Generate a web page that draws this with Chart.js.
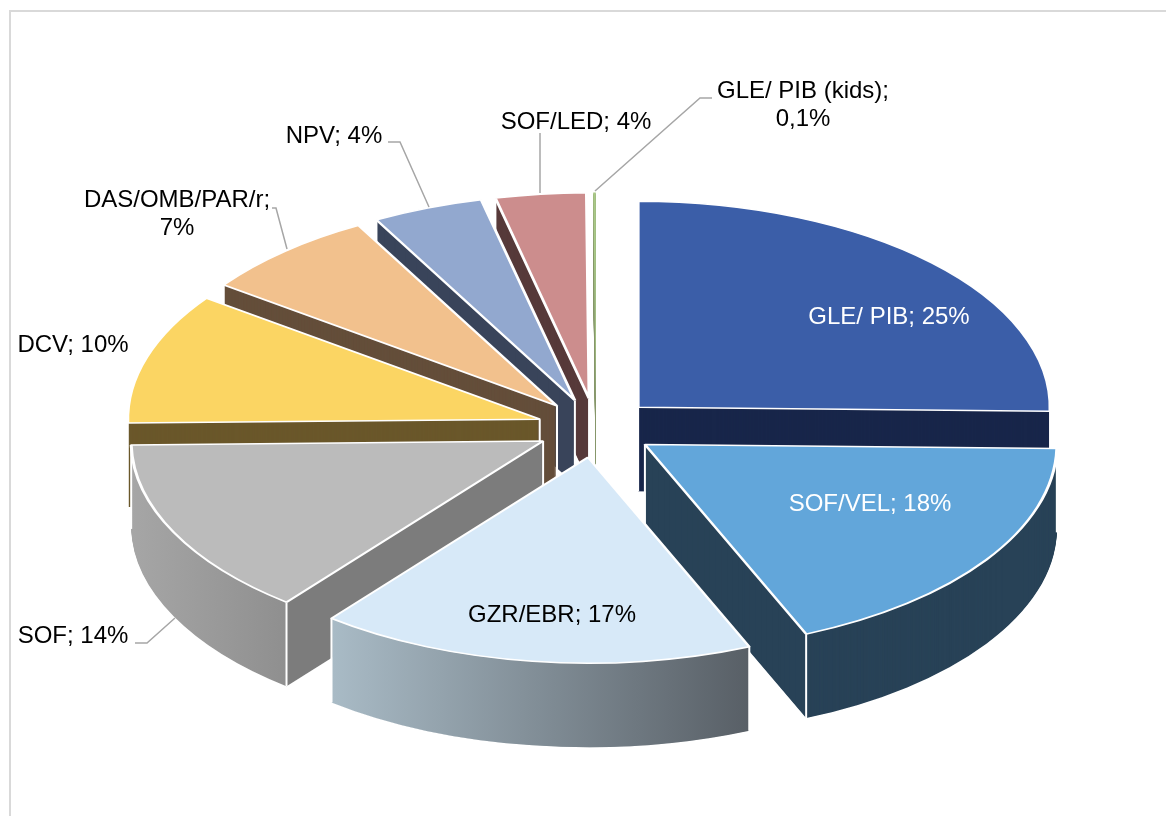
<!DOCTYPE html>
<html>
<head>
<meta charset="utf-8">
<script src="https://cdn.jsdelivr.net/npm/chart.js@4/dist/chart.umd.min.js"></script>
<style>
html,body{margin:0;padding:0;background:#fff;overflow:hidden}
#wrap{position:relative;width:1166px;height:816px}
#frame{position:absolute;left:9px;top:10px;width:1170px;height:820px;border:2px solid #d9d9d9;box-sizing:border-box}
canvas{position:absolute;left:0;top:0}
</style>
</head>
<body>
<div id="wrap"><div id="frame"></div><canvas id="c" width="1166" height="816"></canvas></div>
<script>
const categories = ['GLE/ PIB','SOF/VEL','GZR/EBR','SOF','DCV','DAS/OMB/PAR/r','NPV','SOF/LED','GLE/ PIB (kids)'];
const shareValues = [25.3, 18.3, 17.1, 14, 10.3, 7, 4.35, 3.55, 0.1];
const shareLabels = ['25%','18%','17%','14%','10%','7%','4%','4%','0,1%'];
const topColors  = ['#3b5ea8','#62a6da','#d7e9f8','#bbbbbb','#fbd563','#f2c18d','#92a8cf','#cc8d8d','#a9c887'];
const wallColors = ['#18264a','#284257','#585f66','#7c7c7c','#6a572a','#644e3a','#39445a','#573a3a','#8a9a70'];
// outer-wall shading (start, end) for the two slices with a gradient
const wallShade = {2:['#a9bbc6','#585f66'], 3:['#a6a6a6','#8f8f8f']};
const paintOrder = [8,7,6,5,4,0,3,1,2];

const RADIUS = 412, EXPLODE = 59, TILT = 0.5, DEPTH = 84;

const labelLayout = [
 {lines:['GLE/ PIB; 25%'], x:889, y:317, color:'#ffffff'},
 {lines:['SOF/VEL; 18%'], x:870, y:504, color:'#ffffff'},
 {lines:['GZR/EBR; 17%'], x:552, y:615, color:'#000000'},
 {lines:['SOF; 14%'], x:73, y:636, color:'#000000'},
 {lines:['DCV; 10%'], x:73, y:345, color:'#000000'},
 {lines:['DAS/OMB/PAR/r;','7%'], x:177, y:200, color:'#000000'},
 {lines:['NPV; 4%'], x:334, y:136, color:'#000000'},
 {lines:['SOF/LED; 4%'], x:576, y:122, color:'#000000'},
 {lines:['GLE/ PIB (kids);','0,1%'], x:803, y:91, color:'#000000'}
];
const leaders = [
 [[135,643],[147,643],[175,618]],
 [[272,208],[276,208],[287,249]],
 [[388,142],[400,142],[429,207]],
 [[540,133],[540,193]],
 [[712,98],[700,98],[595,191]]
];

function wallFill(ctx, arc, i){
  const shade = wallShade[i];
  if(!shade) return wallColors[i];
  // gradient spans the visible outer wall, the rest stays flat as the cut face
  const px = a => arc.x + Math.cos(a)*RADIUS;
  const a0 = arc.startAngle, a1 = arc.endAngle;
  let x0 = Math.min(px(a0),px(a1)), x1 = Math.max(px(a0),px(a1));
  if (a0 < Math.PI && a1 > Math.PI) x0 = arc.x - RADIUS;
  const g = ctx.createLinearGradient(arc.x-RADIUS,0,arc.x+RADIUS,0);
  const f = x => Math.min(1,Math.max(0,(x-(arc.x-RADIUS))/(2*RADIUS)));
  g.addColorStop(f(x0),shade[0]); g.addColorStop(f(x1),shade[1]);
  if(i!==2) g.addColorStop(Math.min(1,f(x1)+0.0001),wallColors[i]);
  return g;
}

const pie3d = {
  id:'pie3d',
  beforeDatasetsDraw(chart){
    const ctx = chart.ctx, meta = chart.getDatasetMeta(0);
    const drawArc = (arc, opts) => {
      const saved = arc.options;
      arc.options = Object.assign({}, saved, opts);
      arc.draw(ctx);
      arc.options = saved;
    };
    paintOrder.forEach(i => {
      const arc = meta.data[i];
      const mid = (arc.startAngle + arc.endAngle)/2;
      const dx = Math.cos(mid)*EXPLODE, dy = Math.sin(mid)*EXPLODE*TILT;
      const place = (extra) => {
        ctx.translate(dx, dy + extra);
        ctx.translate(0, arc.y); ctx.scale(1, TILT); ctx.translate(0, -arc.y);
      };
      // side walls: stack of the slice's own arc, back to front
      const fill = wallFill(ctx, arc, i);
      ctx.save(); place(DEPTH);
      drawArc(arc, {backgroundColor:fill, borderWidth:1.5, borderColor:'#ffffff'});
      ctx.restore();
      for(let d = DEPTH; d >= 1; d--){
        ctx.save(); place(d);
        drawArc(arc, {backgroundColor:fill, borderWidth:0});
        ctx.restore();
      }
      // vertical edges
      if(i!==8){
        ctx.save();
        ctx.strokeStyle = '#ffffff'; ctx.lineWidth = 2;
        const corner = a => [arc.x + dx + Math.cos(a)*RADIUS, arc.y + dy + Math.sin(a)*RADIUS*TILT];
        [[arc.x+dx, arc.y+dy], corner(arc.startAngle), corner(arc.endAngle)].forEach(p => {
          ctx.beginPath(); ctx.moveTo(p[0],p[1]); ctx.lineTo(p[0],p[1]+DEPTH); ctx.stroke();
        });
        ctx.restore();
      }
      // top face
      ctx.save(); place(0);
      drawArc(arc, {backgroundColor:topColors[i], borderWidth:i===8?0:3, borderColor:'#ffffff'});
      ctx.restore();
    });
    return false;
  },
  afterDraw(chart){
    const ctx = chart.ctx;
    ctx.save();
    ctx.strokeStyle = '#a6a6a6'; ctx.lineWidth = 1.5;
    leaders.forEach(pts => {
      ctx.beginPath();
      pts.forEach((p,k) => k ? ctx.lineTo(p[0],p[1]) : ctx.moveTo(p[0],p[1]));
      ctx.stroke();
    });
    ctx.font = '24px "Liberation Sans", Arial, sans-serif';
    ctx.textAlign = 'center'; ctx.textBaseline = 'middle';
    labelLayout.forEach(l => {
      ctx.fillStyle = l.color;
      l.lines.forEach((t,k) => ctx.fillText(t, l.x, l.y + k*28.5));
    });
    ctx.restore();
  }
};

new Chart(document.getElementById('c'), {
  type:'pie',
  data:{labels:categories, datasets:[{data:shareValues, backgroundColor:topColors, borderWidth:0, radius:RADIUS}]},
  options:{
    responsive:false, animation:false,
    layout:{padding:{left:26, top:40}},
    plugins:{legend:{display:false}, tooltip:{enabled:false}}
  },
  plugins:[pie3d]
});
</script>
</body>
</html>
